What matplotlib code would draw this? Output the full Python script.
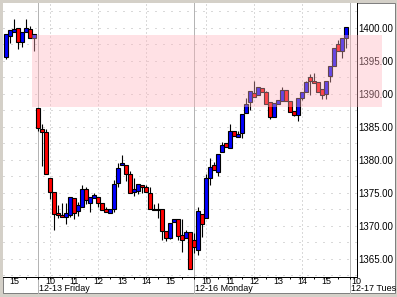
import numpy as np
import matplotlib.pyplot as plt
from matplotlib.patches import Rectangle
from matplotlib.transforms import blended_transform_factory

plt.rcParams['font.family'] = ['Liberation Sans', 'DejaVu Sans']

W, H = 397, 297          # figure size in px
BAR_MIN = 10             # 10 minute bars
SESSION_OPEN = 9 * 60 + 30
BARS_PER_DAY = 39        # 09:30 .. 15:50

# data
days = ['12-12 Thursday', '12-13 Friday', '12-16 Monday', '12-17 Tuesday']
first_bar = ['14:40', '09:30', '09:30']

thu_open = [1395.5, 1398.8, 1399.3, 1399.95, 1397.9, 1399.4, 1399.75, 1398.5]
thu_high = [1399.0, 1399.6, 1401.3, 1400.0, 1399.3, 1401.3, 1400.3, 1399.0]
thu_low = [1395.3, 1397.7, 1399.3, 1396.8, 1397.1, 1399.4, 1398.5, 1396.5]
thu_close = [1399.0, 1399.6, 1399.8, 1397.9, 1399.3, 1399.9, 1398.5, 1399.0]

fri_open = [1387.8, 1384.6, 1384.15, 1377.2, 1375.1, 1371.9, 1371.6, 1371.3, 1371.6, 1374.15,
            1372.2, 1372.9, 1375.5, 1373.5, 1374.15, 1374.4, 1373.5, 1372.5, 1371.9, 1372.5,
            1376.4, 1379.2, 1379.2, 1377.9, 1375.06, 1375.3, 1376.2, 1375.8, 1375.0, 1372.5,
            1372.45, 1372.5, 1369.2, 1368.2, 1370.5, 1370.97, 1368.6, 1368.1, 1369.1]
fri_high = [1387.8, 1385.4, 1384.6, 1377.2, 1375.1, 1373.1, 1373.5, 1373.4, 1374.4, 1374.15,
            1373.6, 1376.2, 1375.8, 1374.4, 1374.9, 1374.4, 1373.5, 1372.9, 1372.5, 1376.9,
            1379.45, 1380.7, 1379.2, 1378.3, 1377.3, 1376.3, 1376.2, 1376.2, 1375.8, 1373.3,
            1373.5, 1372.5, 1369.2, 1370.4, 1371.0, 1370.97, 1370.97, 1369.4, 1369.1]
fri_low = [1384.3, 1379.1, 1377.8, 1374.0, 1369.35, 1371.2, 1371.3, 1370.25, 1371.3, 1371.06,
           1371.5, 1372.9, 1373.3, 1372.0, 1374.15, 1372.8, 1372.4, 1372.05, 1371.9, 1372.0,
           1375.9, 1379.2, 1376.8, 1374.9, 1374.5, 1374.8, 1374.9, 1375.06, 1372.5, 1372.4,
           1371.2, 1367.8, 1367.7, 1368.0, 1370.5, 1367.9, 1366.06, 1368.1, 1363.4]
fri_close = [1384.8, 1384.15, 1377.8, 1375.1, 1371.7, 1371.6, 1371.3, 1371.9, 1374.4, 1371.9,
             1373.2, 1375.5, 1373.9, 1374.4, 1374.65, 1373.5, 1372.4, 1372.05, 1372.5, 1376.3,
             1378.8, 1379.5, 1377.9, 1374.9, 1375.5, 1376.3, 1375.8, 1375.06, 1372.5, 1372.4,
             1372.4, 1369.2, 1368.1, 1370.4, 1370.97, 1368.5, 1367.9, 1369.1, 1363.4]

mon_open = [1367.8, 1366.3, 1371.7, 1371.2, 1377.2, 1379.2, 1378.2, 1381.2, 1382.6, 1381.7,
            1384.35, 1383.4, 1384.1, 1387.0, 1388.8, 1390.06, 1389.8, 1390.8, 1390.3, 1388.8,
            1386.4, 1388.4, 1388.9, 1390.56, 1388.9, 1387.4, 1386.8, 1389.4, 1390.2, 1392.5,
            1391.9, 1391.7, 1390.7, 1389.9, 1392.7, 1394.2, 1397.5, 1396.4, 1398.4]
mon_high = [1368.9, 1372.9, 1371.7, 1377.8, 1380.3, 1379.7, 1380.8, 1382.7, 1382.6, 1385.4,
            1384.35, 1384.4, 1386.9, 1389.4, 1390.45, 1391.9, 1391.0, 1390.9, 1390.4, 1388.8,
            1388.6, 1389.05, 1391.0, 1390.6, 1388.9, 1387.4, 1389.3, 1390.2, 1391.9, 1393.0,
            1393.2, 1391.7, 1390.7, 1391.9, 1394.2, 1396.9, 1398.2, 1398.5, 1400.06]
mon_low = [1365.9, 1365.6, 1368.3, 1371.2, 1376.1, 1378.4, 1377.6, 1381.2, 1381.9, 1381.7,
           1383.6, 1383.4, 1383.3, 1387.0, 1387.6, 1389.5, 1389.8, 1390.3, 1388.5, 1386.2,
           1386.4, 1388.4, 1388.9, 1388.9, 1387.2, 1386.6, 1385.9, 1389.0, 1390.2, 1389.8,
           1391.6, 1390.3, 1389.15, 1389.15, 1391.7, 1394.2, 1396.5, 1395.4, 1396.9]
mon_close = [1366.8, 1372.3, 1370.2, 1377.2, 1378.85, 1378.4, 1380.8, 1382.3, 1381.9, 1384.4,
             1383.6, 1383.85, 1386.9, 1388.4, 1390.45, 1389.5, 1391.0, 1390.3, 1388.5, 1386.4,
             1388.6, 1389.05, 1390.56, 1388.9, 1387.2, 1386.8, 1389.3, 1390.2, 1391.7, 1391.9,
             1391.6, 1390.3, 1389.8, 1391.9, 1394.2, 1396.9, 1396.5, 1398.5, 1400.06]

price_ticks = [1365, 1370, 1375, 1380, 1385, 1390, 1395, 1400]
hour_ticks = [10, 11, 12, 13, 14, 15]
zone_low, zone_high = 1388.0, 1398.9


def to_min(t):
    h, m = t.split(':')
    return int(h) * 60 + int(m)


def slot(day_idx, minutes):
    # continuous trading-time axis, one unit = one bar, 0 = Friday open
    return (day_idx - 1) * BARS_PER_DAY + (minutes - SESSION_OPEN) / BAR_MIN


def fx(px):
    return px / W


def fy(py):
    return 1 - py / H


# collect bars
sessions = [(thu_open, thu_high, thu_low, thu_close),
            (fri_open, fri_high, fri_low, fri_close),
            (mon_open, mon_high, mon_low, mon_close)]
xs, o, h, l, c = [], [], [], [], []
for d, (op, hi, lo, cl) in enumerate(sessions):
    start = slot(d, to_min(first_bar[d]))
    xs += list(start + np.arange(len(op)))
    o += op
    h += hi
    l += lo
    c += cl
xs, o, h, l, c = map(np.array, (xs, o, h, l, c))

fig = plt.figure(figsize=(W / 100, H / 100), dpi=100, facecolor='#D4D0C8')
fig.patches.append(Rectangle((fx(3), fy(293)), (395 - 3) / W, (293 - 3) / H,
                             transform=fig.transFigure, facecolor='white',
                             edgecolor='#808080', linewidth=0.72, zorder=-1))

ax = fig.add_axes([fx(3), fy(276.5), (357 - 3) / W, (276.5 - 3) / H])
ax.set_facecolor('white')
ax.set_xlim(-8.75, 79.75)
ax.set_ylim(1362.30, 1403.74)

for s in ['left', 'top']:
    ax.spines[s].set_visible(False)
for s in ['right', 'bottom']:
    ax.spines[s].set_color('black')
    ax.spines[s].set_linewidth(0.72)

# grid
for p in np.arange(1362.5, 1403, 2.5):
    ax.axhline(p, color='#B4B4B4', lw=0.72, linestyle=(0, (1, 7)), zorder=1)
for d in (1, 2):
    for hr in (10, 12, 14):
        ax.axvline(slot(d, hr * 60), color='#B4B4B4', lw=0.72, linestyle=(0, (1, 3)), zorder=1)

# day separators
ext = (293 - 276.5) / (276.5 - 3)
for d in (1, 2, 3):
    ax.axvline(slot(d, SESSION_OPEN), ymin=-ext, ymax=1, color='#B4B4B4', lw=0.72,
               clip_on=False, zorder=1.5)

# candles
up = c >= o
body_lo = np.minimum(o, c)
body_h = np.maximum(np.abs(c - o), 0.08)
ax.vlines(xs, l, h, colors='black', lw=0.8, zorder=3)
ax.bar(xs, body_h, bottom=body_lo, width=0.92,
       color=np.where(up, '#0000FF', '#FF0000'), edgecolor='black', linewidth=0.8, zorder=4)

# highlighted zone
ax.add_patch(Rectangle((-1.5, zone_low), 87.5, zone_high - zone_low, facecolor='#FFB4BE',
                       alpha=0.4, edgecolor='none', zorder=10, clip_on=False))

# price axis
ax.yaxis.tick_right()
ax.set_yticks(price_ticks)
ax.set_yticklabels([f'{p:.2f}' for p in price_ticks], fontsize=7)
ax.tick_params(axis='y', length=0, pad=1.2)

# time axis
ax.set_xticks(np.arange(-6, 80, 3))
ax.set_xticklabels([])
ax.tick_params(axis='x', direction='out', length=1.5, width=0.72, color='black')

trans = blended_transform_factory(ax.transData, fig.transFigure)
ax.text(slot(0, 15 * 60), fy(284), '15', transform=trans, ha='center', va='baseline',
        fontsize=6.5, clip_on=False)
for d in (1, 2):
    for hr in hour_ticks:
        ax.text(slot(d, hr * 60), fy(284), str(hr), transform=trans, ha='center',
                va='baseline', fontsize=6.5, clip_on=False)
for d in (1, 2, 3):
    x0 = slot(d, SESSION_OPEN) + 0.3
    ax.text(x0, fy(290.8), days[d], transform=trans, ha='left', va='baseline',
            fontsize=6.5, clip_on=False)
ax.text(slot(3, SESSION_OPEN) + 0.3, fy(284), '10', transform=trans, ha='left',
        va='baseline', fontsize=6.5, clip_on=False)

# cover text running past the panel edge
fig.add_artist(Rectangle((fx(395.5), 0), 2 / W, 1, transform=fig.transFigure,
                         facecolor='#D4D0C8', edgecolor='none', zorder=20))

plt.savefig('out.png', dpi=100, facecolor=fig.get_facecolor())
plt.close()
